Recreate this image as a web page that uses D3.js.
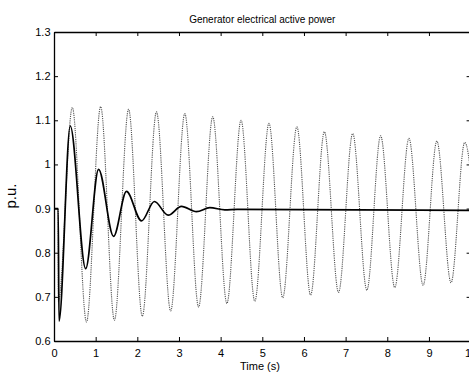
<!DOCTYPE html>
<html>
<head>
<meta charset="utf-8">
<script src="https://cdn.jsdelivr.net/npm/d3@7"></script>
<style>
  html, body { margin: 0; padding: 0; background: #fff; }
  svg { display: block; font-family: "Liberation Sans", Arial, sans-serif; }
</style>
</head>
<body>
<svg id="chart" width="469" height="373"></svg>
<script>
// ---- Data ----
const titleText = "Generator electrical active power";
const xLabelText = "Time (s)";
const yLabelText = "p.u.";

const xTicks = [0, 1, 2, 3, 4, 5, 6, 7, 8, 9, 10];
const xTickLabels = ["0", "1", "2", "3", "4", "5", "6", "7", "8", "9", "10"];
const yTicks = [0.6, 0.7, 0.8, 0.9, 1.0, 1.1, 1.2, 1.3];
const yTickLabels = ["0.6", "0.7", "0.8", "0.9", "1", "1.1", "1.2", "1.3"];

// Undamped (dotted) response: start, jump, then successive extrema
const dottedTime  = [0, 0.1, 0.105, 0.44, 0.78, 1.12, 1.45, 1.79, 2.12, 2.46, 2.8, 3.14, 3.47, 3.81, 4.15, 4.49, 4.82, 5.16, 5.49, 5.83, 6.16, 6.49, 6.83, 7.17, 7.51, 7.84, 8.18, 8.52, 8.86, 9.19, 9.53, 9.86, 10.2];
const dottedValue = [0.9, 0.9, 0.69, 1.129, 0.643, 1.131, 0.647, 1.125, 0.656, 1.119, 0.668, 1.115, 0.677, 1.108, 0.685, 1.10, 0.690, 1.093, 0.698, 1.085, 0.704, 1.074, 0.710, 1.070, 0.715, 1.065, 0.721, 1.059, 0.726, 1.053, 0.732, 1.050, 0.735];

// Damped (solid) response: start, jump, then successive extrema, settled value
const solidTime  = [0, 0.1, 0.12, 0.39, 0.76, 1.07, 1.43, 1.74, 2.1, 2.41, 2.74, 3.06, 3.42, 3.74, 4.1, 4.4, 10];
const solidValue = [0.9, 0.9, 0.645, 1.087, 0.764, 0.989, 0.837, 0.939, 0.872, 0.916, 0.885, 0.905, 0.893, 0.902, 0.897, 0.898, 0.896];

// ---- Layout ----
const svg = d3.select("#chart");
const mLeft = 54, mTop = 32, mRight = 470.6, mBottom = 341;

const x = d3.scaleLinear().domain([0, 10]).range([mLeft, mRight]);
const y = d3.scaleLinear().domain([0.6, 1.3]).range([mBottom, mTop]);

svg.append("defs").append("clipPath").attr("id", "clip")
  .append("rect").attr("x", mLeft).attr("y", mTop)
  .attr("width", mRight - mLeft).attr("height", mBottom - mTop);

const dotted = dottedTime.map((t, i) => [t, dottedValue[i]]);
const solid = solidTime.map((t, i) => [t, solidValue[i]]);

const line = d3.line().x(d => x(d[0])).y(d => y(d[1])).curve(d3.curveMonotoneX);

const plot = svg.append("g").attr("clip-path", "url(#clip)");
plot.append("path").datum(dotted)
  .attr("d", line).attr("fill", "none")
  .attr("stroke", "#555").attr("stroke-width", 1.1)
  .attr("stroke-dasharray", "1.2,1");
plot.append("path").datum(solid)
  .attr("d", line).attr("fill", "none")
  .attr("stroke", "#000").attr("stroke-width", 1.7)
  .attr("stroke-linejoin", "round");

// ---- Axes (ticks inward on all four sides) ----
const tickLen = 4;
const fmtX = (d, i) => xTickLabels[i];
const fmtY = (d, i) => yTickLabels[i];

const gB = svg.append("g").attr("transform", `translate(0,${mBottom})`)
  .call(d3.axisBottom(x).tickValues(xTicks).tickFormat(fmtX)
    .tickSizeInner(-tickLen).tickSizeOuter(0).tickPadding(8));
const gT = svg.append("g").attr("transform", `translate(0,${mTop})`)
  .call(d3.axisTop(x).tickValues(xTicks).tickFormat("")
    .tickSizeInner(-tickLen).tickSizeOuter(0));
const gL = svg.append("g").attr("transform", `translate(${mLeft},0)`)
  .call(d3.axisLeft(y).tickValues(yTicks).tickFormat(fmtY)
    .tickSizeInner(-tickLen).tickSizeOuter(0).tickPadding(3.5));
const gR = svg.append("g").attr("transform", `translate(${mRight},0)`)
  .call(d3.axisRight(y).tickValues(yTicks).tickFormat("")
    .tickSizeInner(-tickLen).tickSizeOuter(0));

[gB, gT, gL, gR].forEach(g => {
  g.select(".domain").attr("stroke", "#000").attr("stroke-width", 1.3);
  g.selectAll(".tick line").attr("stroke", "#000").attr("stroke-width", 1);
  g.selectAll(".tick text").attr("fill", "#000")
    .style("font-size", "11px")
    .style("font-family", "'Liberation Sans', Arial, sans-serif");
});

// ---- Titles ----
svg.append("text")
  .attr("x", (mLeft + mRight) / 2).attr("y", 23)
  .attr("text-anchor", "middle")
  .style("font-size", "10px")
  .text(titleText);

svg.append("text")
  .attr("x", 260).attr("y", 370)
  .attr("text-anchor", "middle")
  .style("font-size", "11px")
  .text(xLabelText);

svg.append("text")
  .attr("transform", "translate(16,196) rotate(-90)")
  .attr("text-anchor", "middle")
  .style("font-size", "15px")
  .text(yLabelText);
</script>
</body>
</html>
